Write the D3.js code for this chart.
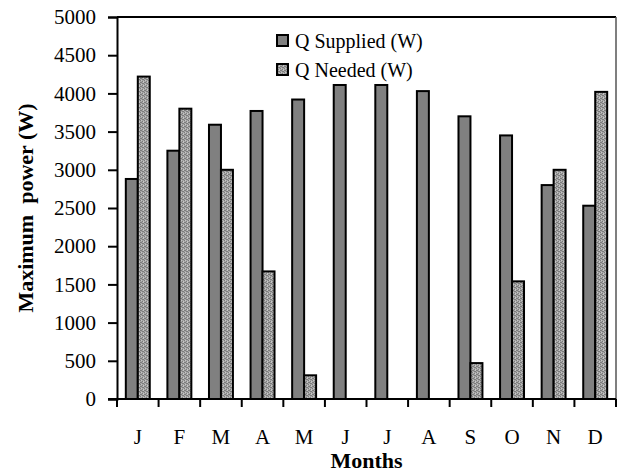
<!DOCTYPE html>
<html><head><meta charset="utf-8">
<script src="https://cdn.jsdelivr.net/npm/d3@7"></script>
<style>
html,body{margin:0;padding:0;background:#fff;}
svg{display:block;}
svg text{font-family:"Liberation Serif","Times New Roman",serif !important;}
</style>
</head><body>
<svg id="chart" width="625" height="474"></svg>
<script>
const months = ["J","F","M","A","M","J","J","A","S","O","N","D"];
const seriesNames = ["Q Supplied (W)","Q Needed (W)"];
const supplied = [2880,3250,3590,3770,3920,4110,4110,4030,3700,3450,2800,2530];
const needed   = [4220,3800,3000,1670,310,0,0,0,470,1540,3000,4020];
const yTicks = [0,500,1000,1500,2000,2500,3000,3500,4000,4500,5000];

const svg = d3.select("#chart");
const m = {left:117, right:616, top:17, bottom:399};

const defs = svg.append("defs");
const pat = defs.append("pattern").attr("id","stipple").attr("patternUnits","userSpaceOnUse")
  .attr("width",4).attr("height",4);
pat.append("rect").attr("width",4).attr("height",4).attr("fill","#a6a6a6");
[[0,0],[2,1],[1,2],[3,3],[2,3],[0,2]].forEach(p=>{
  pat.append("rect").attr("x",p[0]).attr("y",p[1]).attr("width",1).attr("height",1).attr("fill","#7c7c7c");
});
[[1,0],[3,1],[3,2]].forEach(p=>{
  pat.append("rect").attr("x",p[0]).attr("y",p[1]).attr("width",1).attr("height",1).attr("fill","#c4c4c4");
});

const idx = months.map((d,i)=>i);
const x = d3.scaleBand().domain(idx).range([m.left,m.right]).paddingInner(0.424).paddingOuter(0.212);
const xs = d3.scaleBand().domain([0,1]).range([0,x.bandwidth()]);
const y = d3.scaleLinear().domain([0,5000]).range([m.bottom,m.top]);

const fills = ["#808080","url(#stipple)"];
const data = [supplied, needed];

// bars
data.forEach((vals,s)=>{
  const rows = vals.map((v,i)=>({i:i,v:v})).filter(d=>d.v>0);
  svg.append("g").selectAll("rect").data(rows).join("rect")
    .attr("x",d=>x(d.i)+xs(s))
    .attr("y",d=>y(d.v))
    .attr("width",xs.bandwidth())
    .attr("height",d=>y(0)-y(d.v))
    .attr("fill",fills[s])
    .attr("stroke","#000").attr("stroke-width",2);
});

// frame top and right
svg.append("line").attr("x1",m.left).attr("x2",m.right).attr("y1",m.top).attr("y2",m.top)
  .attr("stroke","#000").attr("stroke-width",2);
svg.append("line").attr("x1",m.right).attr("x2",m.right).attr("y1",m.top).attr("y2",m.bottom)
  .attr("stroke","#555").attr("stroke-width",1.5);

// y axis
const yAxis = svg.append("g").attr("transform",`translate(${m.left},0)`)
  .call(d3.axisLeft(y).tickValues(yTicks).tickSize(9).tickPadding(12).tickFormat(d3.format("d")));
yAxis.attr("font-family",null);
yAxis.select(".domain").attr("stroke","#000").attr("stroke-width",2);
yAxis.selectAll(".tick line").attr("stroke","#000").attr("stroke-width",2);
yAxis.selectAll(".tick text").attr("font-size",21).attr("fill","#000");

// x axis: ticks at band boundaries
const bounds = d3.range(13).map(i=>m.left + i*x.step());
const xAxisG = svg.append("g");
xAxisG.append("line").attr("x1",m.left-9).attr("x2",m.right).attr("y1",m.bottom).attr("y2",m.bottom)
  .attr("stroke","#000").attr("stroke-width",2);
xAxisG.selectAll(".xt").data(bounds).join("line").attr("class","xt")
  .attr("x1",d=>d).attr("x2",d=>d).attr("y1",m.bottom).attr("y2",m.bottom+8)
  .attr("stroke","#000").attr("stroke-width",2);
xAxisG.selectAll(".xl").data(idx).join("text").attr("class","xl")
  .attr("x",i=>x(i)+x.bandwidth()/2).attr("y",444)
  .attr("text-anchor","middle").attr("font-size",21).attr("fill","#000")
  .text(i=>months[i]);

// axis titles
svg.append("text").attr("x",(m.left+m.right)/2).attr("y",468).attr("text-anchor","middle")
  .attr("font-size",22).attr("font-weight","bold").text("Months");
svg.append("text").attr("transform",`translate(33,${(m.top+m.bottom)/2}) rotate(-90)`)
  .attr("text-anchor","middle").attr("font-size",22).attr("font-weight","bold")
  .style("white-space","pre").text("Maximum  power (W)");

// legend
const leg = svg.append("g");
seriesNames.forEach((n,s)=>{
  const cy = 41 + s*29;
  leg.append("rect").attr("x",277).attr("y",cy-6).attr("width",11).attr("height",11)
    .attr("fill",fills[s]).attr("stroke","#000").attr("stroke-width",2);
  leg.append("text").attr("x",295).attr("y",cy+7).attr("font-size",20).attr("fill","#000").text(n);
});
</script>
</body></html>
